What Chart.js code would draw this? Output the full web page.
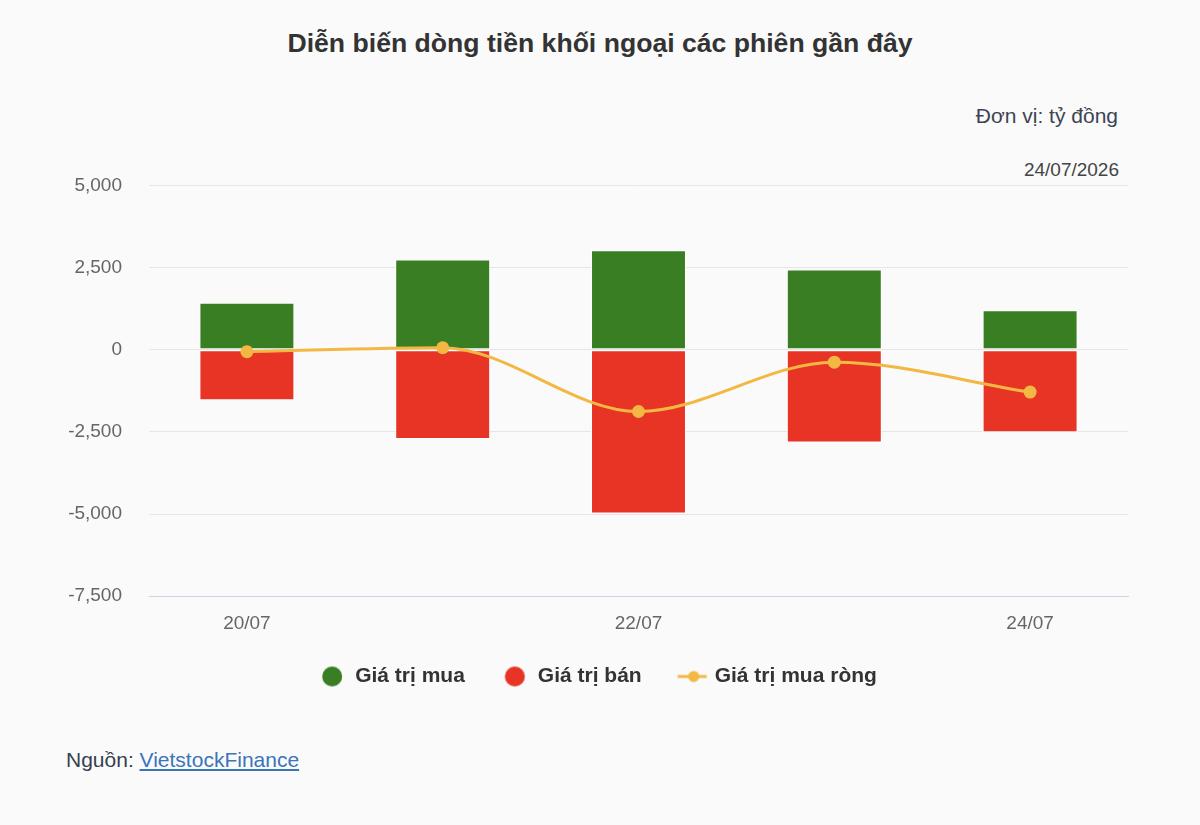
<!DOCTYPE html>
<html lang="vi">
<head>
<meta charset="utf-8">
<title>Diễn biến dòng tiền khối ngoại</title>
<script src="https://cdn.jsdelivr.net/npm/chart.js@4"></script>
<style>
  html, body { margin: 0; padding: 0; background: #fafafa; }
  body { width: 1200px; height: 825px; position: relative; overflow: hidden;
         font-family: "Liberation Sans", Arial, sans-serif; }
  .tieu-de { position: absolute; left: 0; width: 1200px; top: 30px; text-align: center;
             font-size: 26.6px; line-height: 26px; font-weight: bold; color: #333; }
  .don-vi { position: absolute; right: 82px; top: 105px; font-size: 21px; line-height: 21px; color: #3b4454; }
  .ngay { position: absolute; right: 81px; top: 160px; font-size: 19px; line-height: 19px; color: #444; }
  .nguon { position: absolute; left: 66px; top: 749px; font-size: 21px; line-height: 21px; color: #34404f; }
  .nguon a { color: #3a74b9; text-decoration: underline; }
  #bieuDo { position: absolute; left: 0; top: 147px; }
</style>
</head>
<body>
<div class="tieu-de">Diễn biến dòng tiền khối ngoại các phiên gần đây</div>
<div class="don-vi">Đơn vị: tỷ đồng</div>
<div class="ngay">24/07/2026</div>
<canvas id="bieuDo" width="1200" height="550"></canvas>
<div class="nguon">Nguồn: <a href="#">VietstockFinance</a></div>
<script>
// du lieu doc tu hinh (ty dong)
const ngay = ['20/07', '21/07', '22/07', '23/07', '24/07'];
const giaTriMua = [1430, 2745, 3030, 2440, 1200];
const giaTriBan = [-1540, -2720, -4980, -2820, -2510];
const giaTriMuaRong = [-60, 60, -1880, -380, -1290];
const mocY = { min: -7500, max: 5000, buoc: 2500 };

const FONT = '"Liberation Sans", Arial, sans-serif';
const LECH_CHU_GIAI = -7; // chinh chu giai cho can giua trang

// bieu tuong chu giai: hinh tron va duong co diem
function taoHinhTron(mau) {
  const c = document.createElement('canvas');
  c.width = 80; c.height = 22;
  const g = c.getContext('2d');
  g.fillStyle = mau;
  g.beginPath();
  g.arc(51.25, 11, 10, 0, Math.PI * 2);
  g.fill();
  return c;
}

function taoDuongDiem(mau) {
  const c = document.createElement('canvas');
  c.width = 80; c.height = 22;
  const g = c.getContext('2d');
  g.strokeStyle = mau;
  g.lineWidth = 3;
  g.beginPath();
  g.moveTo(37.25, 11);
  g.lineTo(66.25, 11);
  g.stroke();
  g.fillStyle = mau;
  g.beginPath();
  g.arc(53.25, 11, 5.5, 0, Math.PI * 2);
  g.fill();
  return c;
}

const XANH = '#3a7e23';
const DO = '#e83424';
const VANG = '#f3b843';
const bieuTuong = [taoHinhTron(XANH), taoHinhTron(DO), taoDuongDiem(VANG)];

const dichChuGiai = {
  id: 'dichChuGiai',
  afterLayout(chart) {
    if (chart.legend) {
      chart.legend.left += LECH_CHU_GIAI;
      chart.legend.right += LECH_CHU_GIAI;
    }
  }
};

new Chart(document.getElementById('bieuDo'), {
  type: 'bar',
  data: {
    labels: ngay,
    datasets: [
      {
        label: 'Giá trị mua',
        data: giaTriMua,
        backgroundColor: XANH,
        borderColor: '#ffffff',
        borderWidth: 1,
        borderSkipped: false,
        stack: 'cot',
        order: 1
      },
      {
        label: 'Giá trị bán',
        data: giaTriBan,
        backgroundColor: DO,
        borderColor: '#ffffff',
        borderWidth: 1,
        borderSkipped: false,
        stack: 'cot',
        order: 1
      },
      {
        type: 'line',
        label: 'Giá trị mua ròng',
        data: giaTriMuaRong,
        borderColor: VANG,
        backgroundColor: VANG,
        borderWidth: 3,
        pointRadius: 6.5,
        pointBorderWidth: 0,
        pointBackgroundColor: VANG,
        cubicInterpolationMode: 'monotone',
        stack: 'duong',
        order: 0
      }
    ]
  },
  plugins: [dichChuGiai],
  options: {
    responsive: false,
    animation: false,
    locale: 'en-US',
    layout: { padding: { top: 10, left: 60, right: 72, bottom: 0 } },
    datasets: {
      bar: { categoryPercentage: 0.485, barPercentage: 1 }
    },
    scales: {
      x: {
        stacked: true,
        grid: { display: false, drawTicks: false },
        border: { display: true, color: '#ccd6eb', width: 1 },
        ticks: {
          autoSkip: false,
          maxRotation: 0,
          padding: 16,
          color: '#666',
          font: { family: FONT, size: 19 },
          callback: (v, i) => (i % 2 === 0 ? ngay[i] : '')
        }
      },
      y: {
        stacked: true,
        min: mocY.min,
        max: mocY.max,
        grid: { color: '#e6e6e6', lineWidth: 1, drawTicks: false },
        border: { display: false },
        ticks: {
          stepSize: mocY.buoc,
          padding: 27,
          color: '#666',
          font: { family: FONT, size: 19 }
        },
        afterFit: (scale) => { scale.width = 89; }
      }
    },
    plugins: {
      tooltip: { enabled: false },
      legend: {
        position: 'bottom',
        labels: {
          usePointStyle: true,
          pointStyleWidth: 47.5,
          boxWidth: 21,
          boxHeight: 21,
          padding: 15,
          color: '#333',
          font: { family: FONT, size: 21, weight: 'bold' },
          sort: (a, b) => a.datasetIndex - b.datasetIndex,
          generateLabels: (chart) => {
            const items = Chart.defaults.plugins.legend.labels.generateLabels(chart);
            items.forEach((it) => { it.pointStyle = bieuTuong[it.datasetIndex]; });
            return items;
          }
        }
      }
    }
  }
});
</script>
</body>
</html>
